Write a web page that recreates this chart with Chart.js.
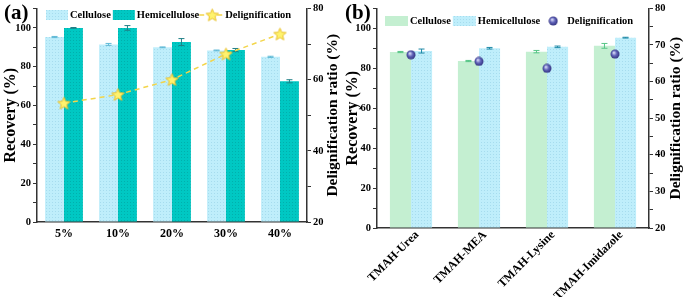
<!DOCTYPE html>
<html>
<head>
<meta charset="utf-8">
<script src="https://cdn.jsdelivr.net/npm/chart.js@4.4.0/dist/chart.umd.min.js"></script>
<style>
  body { margin: 0; background: #fff; }
  .panel { position: absolute; top: 0; width: 342px; height: 297px; }
  .tag { position: absolute; top: 0; font: bold 21px 'Liberation Serif', serif; color: #000; }
</style>
</head>
<body>
<div class="panel" style="left:0">
  <canvas id="chartA" width="342" height="297"></canvas>
  <div class="tag" style="left:4px">(a)</div>
</div>
<div class="panel" style="left:342px">
  <canvas id="chartB" width="342" height="297"></canvas>
  <div class="tag" style="left:3px">(b)</div>
</div>
<script>
// panel (a): TMAH concentration
const concLabels = ['5%', '10%', '20%', '30%', '40%'];
const celluloseA = [95.3, 91.5, 90.0, 88.4, 85.1];
const celluloseAErr = [0.3, 0.5, 0.2, 0.2, 0.3];
const hemiA = [100.0, 100.0, 92.7, 88.6, 72.5];
const hemiAErr = [0.2, 1.2, 1.8, 0.8, 0.8];
const delignA = [53.4, 55.8, 60.0, 67.2, 72.8];

// panel (b): TMAH-based solvents
const solventLabels = ['TMAH-Urea', 'TMAH-MEA', 'TMAH-Lysine', 'TMAH-Imidazole'];
const celluloseB = [88.1, 83.6, 88.3, 91.2];
const celluloseBErr = [0.3, 0.3, 0.6, 1.2];
const hemiB = [88.6, 90.0, 90.7, 95.3];
const hemiBErr = [1.0, 0.4, 0.4, 0.2];
const delignB = [67.3, 65.5, 63.6, 67.5];

const FONT = "'Liberation Serif', 'Times New Roman', serif";
const AXIS = '#333';
Chart.defaults.font.family = FONT;
Chart.defaults.color = '#000';

function dotPattern(base, dot) {
  const c = document.createElement('canvas');
  c.width = 3; c.height = 3;
  const g = c.getContext('2d');
  g.fillStyle = base;
  g.fillRect(0, 0, 3, 3);
  g.fillStyle = dot;
  g.fillRect(1, 1, 1, 1);
  return g.createPattern(c, 'repeat');
}

function starImage(size) {
  const c = document.createElement('canvas');
  c.width = size; c.height = size;
  const g = c.getContext('2d');
  const cx = size / 2, cy = size / 2 + 0.5, r = size / 2 - 1, ri = r * 0.45;
  g.beginPath();
  for (let i = 0; i < 10; i++) {
    const a = -Math.PI / 2 + i * Math.PI / 5;
    const rr = i % 2 ? ri : r;
    g.lineTo(cx + rr * Math.cos(a), cy + rr * Math.sin(a));
  }
  g.closePath();
  g.fillStyle = '#fff36e';
  g.fill();
  g.strokeStyle = '#e8c02c';
  g.lineWidth = 1;
  g.stroke();
  return c;
}

function sphereImage(size) {
  const c = document.createElement('canvas');
  c.width = size; c.height = size;
  const g = c.getContext('2d');
  const grad = g.createRadialGradient(size * 0.38, size * 0.35, 0.5, size / 2, size / 2, size / 2);
  grad.addColorStop(0, '#d0d4f4');
  grad.addColorStop(0.45, '#6062b8');
  grad.addColorStop(1, '#2c2c76');
  g.fillStyle = grad;
  g.beginPath();
  g.arc(size / 2, size / 2, size / 2 - 0.5, 0, Math.PI * 2);
  g.fill();
  return c;
}

const errorBars = {
  id: 'errorBars',
  afterDatasetDraw(chart, args) {
    const ds = chart.data.datasets[args.index];
    if (!ds.errors) return;
    const ctx = chart.ctx;
    const y = chart.scales[ds.yAxisID || 'y'];
    ctx.save();
    ctx.strokeStyle = ds.errorColor;
    ctx.lineWidth = 1;
    args.meta.data.forEach((bar, i) => {
      const top = y.getPixelForValue(ds.data[i] + ds.errors[i]);
      const bot = y.getPixelForValue(ds.data[i] - ds.errors[i]);
      ctx.beginPath();
      ctx.moveTo(bar.x, top); ctx.lineTo(bar.x, bot);
      ctx.moveTo(bar.x - 3, top); ctx.lineTo(bar.x + 3, top);
      ctx.moveTo(bar.x - 3, bot); ctx.lineTo(bar.x + 3, bot);
      ctx.stroke();
    });
    ctx.restore();
  }
};

const innerLegend = {
  id: 'innerLegend',
  afterDraw(chart, args, opts) {
    const ctx = chart.ctx;
    let x = opts.x;
    const y = opts.y;
    ctx.save();
    ctx.font = 'bold 10.5px ' + FONT;
    ctx.textBaseline = 'middle';
    chart.data.datasets.forEach(ds => {
      if (ds.type === 'line') {
        if (ds.showLine !== false) {
          ctx.strokeStyle = ds.borderColor;
          ctx.lineWidth = ds.borderWidth;
          ctx.setLineDash(ds.borderDash);
          ctx.beginPath();
          ctx.moveTo(x - 2, y); ctx.lineTo(x + 24, y);
          ctx.stroke();
          ctx.setLineDash([]);
        }
        const img = ds.pointStyle;
        ctx.drawImage(img, x + 11 - img.width / 2, y - img.height / 2);
      } else {
        ctx.fillStyle = ds.backgroundColor;
        ctx.fillRect(x, y - 5, opts.box, 10);
      }
      x += opts.box + 2;
      ctx.fillStyle = '#000';
      ctx.fillText(ds.label, x, y);
      x += ctx.measureText(ds.label).width + 2;
    });
    ctx.restore();
  }
};

// right-hand axis title, read bottom to top like the left one
const rightTitle = {
  id: 'rightTitle',
  afterDraw(chart, args, opts) {
    const ctx = chart.ctx;
    const area = chart.chartArea;
    ctx.save();
    ctx.translate(opts.x, (area.top + area.bottom) / 2);
    ctx.rotate(-Math.PI / 2);
    ctx.font = 'bold 15.5px ' + FONT;
    ctx.fillStyle = '#000';
    ctx.textAlign = 'center';
    ctx.textBaseline = 'middle';
    ctx.fillText(opts.text, 0, 0);
    ctx.restore();
  }
};

function makeScales(opt) {
  const tickFont = { family: FONT, size: 10.5, weight: 'bold' };
  const titleFont = { family: FONT, size: 16, weight: 'bold' };
  const grid = { drawOnChartArea: false, tickLength: 4, color: AXIS, tickColor: AXIS, lineWidth: 1 };
  const border = { display: true, color: AXIS, width: 1.5 };
  return {
    x: {
      offset: true,
      grid: { display: false, drawTicks: false },
      border: border,
      ticks: { font: { family: FONT, size: opt.xFont, weight: 'bold' }, minRotation: opt.rot, maxRotation: opt.rot,
               padding: opt.xPad, labelOffset: opt.xShift, autoSkip: false },
      afterFit(s) { s.height = opt.xh; }
    },
    y: {
      position: 'left', min: 0, max: 110,
      grid: grid, border: border,
      ticks: { stepSize: 10, font: tickFont, padding: 2, callback: v => (v % 20 === 0 && v <= 100 ? v : '') },
      title: { display: true, text: 'Recovery (%)', font: titleFont, padding: { top: 1, bottom: 0 } },
      afterFit(s) { s.width = opt.lw; }
    },
    y1: {
      position: 'right', min: 20, max: 80,
      grid: grid, border: border,
      ticks: { stepSize: opt.rStep, font: tickFont, padding: 2, callback: v => (v % opt.rLab === 0 ? v : '') },
      afterFit(s) { s.width = opt.rw; }
    }
  };
}

new Chart(document.getElementById('chartA'), {
  type: 'bar',
  data: {
    labels: concLabels,
    datasets: [
      { label: 'Cellulose', data: celluloseA, errors: celluloseAErr, errorColor: '#5fb9d6',
        backgroundColor: dotPattern('#bfeefb', '#a6dcee'), yAxisID: 'y', order: 1,
        categoryPercentage: 0.7, barPercentage: 1.0 },
      { label: 'Hemicellulose', data: hemiA, errors: hemiAErr, errorColor: '#1f7f86',
        backgroundColor: dotPattern('#00c8c3', '#00b0ad'), yAxisID: 'y', order: 1,
        categoryPercentage: 0.7, barPercentage: 1.0 },
      { type: 'line', label: 'Delignification', data: delignA, yAxisID: 'y1', order: 0,
        borderColor: '#f3d54a', borderWidth: 1.5, borderDash: [5, 4], fill: false,
        pointStyle: starImage(15), pointRadius: 7 }
    ]
  },
  options: {
    responsive: false,
    animation: false,
    layout: { padding: { top: 6, left: 0, right: 0, bottom: 0 } },
    plugins: {
      legend: { display: false }, tooltip: { enabled: false },
      innerLegend: { x: 46, y: 15, box: 22 },
      rightTitle: { x: 333, text: 'Delignification ratio (%)' }
    },
    scales: makeScales({ rot: 0, xh: 75, xFont: 12, xPad: 5, xShift: 0, lw: 37, rw: 35, rStep: 10, rLab: 20 })
  },
  plugins: [errorBars, innerLegend, rightTitle]
});

new Chart(document.getElementById('chartB'), {
  type: 'bar',
  data: {
    labels: solventLabels,
    datasets: [
      { label: 'Cellulose', data: celluloseB, errors: celluloseBErr, errorColor: '#55c585',
        backgroundColor: '#c4efd1', yAxisID: 'y', order: 1,
        categoryPercentage: 0.62, barPercentage: 1.0 },
      { label: 'Hemicellulose', data: hemiB, errors: hemiBErr, errorColor: '#1f8aa8',
        backgroundColor: dotPattern('#bfeefb', '#a6dcee'), yAxisID: 'y', order: 1,
        categoryPercentage: 0.62, barPercentage: 1.0 },
      { type: 'line', label: 'Delignification', data: delignB, yAxisID: 'y1', order: 0,
        showLine: false, pointStyle: sphereImage(10), pointRadius: 5 }
    ]
  },
  options: {
    responsive: false,
    animation: false,
    layout: { padding: { top: 8, left: 0, right: 0, bottom: 0 } },
    plugins: {
      legend: { display: false }, tooltip: { enabled: false },
      innerLegend: { x: 43, y: 21, box: 23 },
      rightTitle: { x: 334, text: 'Delignification ratio (%)' }
    },
    scales: makeScales({ rot: 45, xh: 69, xFont: 12, xPad: 0, xShift: 6, lw: 35, rw: 35, rStep: 5, rLab: 10 })
  },
  plugins: [errorBars, innerLegend, rightTitle]
});
</script>
</body>
</html>
